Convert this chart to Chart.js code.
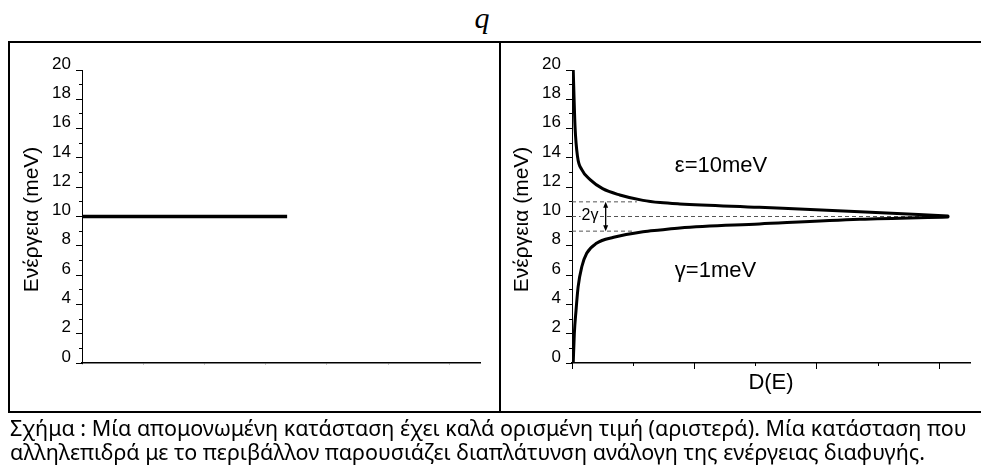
<!DOCTYPE html>
<html lang="el">
<head>
  <meta charset="UTF-8" />
  <title>Ενέργεια - D(E)</title>
  <script src="https://cdn.jsdelivr.net/npm/chart.js"></script>
  <style>
    html, body {
      margin: 0;
      padding: 0;
      background: #fff;
      overflow: hidden;
    }

    .page {
      position: relative;
      width: 981px;
      height: 466px;
      overflow: hidden;
    }

    .q {
      position: absolute;
      left: 462px;
      top: 1px;
      width: 40px;
      text-align: center;
      font: italic 30px "Liberation Serif", serif;
      color: #000;
    }

    .frame {
      position: absolute;
      left: 8px;
      top: 41px;
      width: 990px;
      height: 368px;
      border: 2px solid #000;
    }

    .divider {
      position: absolute;
      left: 499px;
      top: 41px;
      width: 2px;
      height: 372px;
      background: #000;
    }

    canvas {
      position: absolute;
    }

    #chart-left { left: 8px; top: 42px; }
    #chart-right { left: 500px; top: 42px; }

    .caption {
      position: absolute;
      left: 10px;
      font-family: "Noto Sans", sans-serif;
      font-size: 21.5px;
      line-height: 24px;
      color: #000;
      white-space: nowrap;
    }
  </style>
</head>
<body>
  <div class="page">
    <div class="q">q</div>
    <canvas id="chart-left" width="492" height="370"></canvas>
    <canvas id="chart-right" width="481" height="370"></canvas>
    <div class="frame"></div>
    <div class="divider"></div>
    <div class="caption" style="top:416px">Σχήμα : Μία απομονωμένη κατάσταση έχει καλά ορισμένη τιμή (αριστερά). Μία κατάσταση που</div>
    <div class="caption" style="top:440px">αλληλεπιδρά με το περιβάλλον παρουσιάζει διαπλάτυνση ανάλογη της ενέργειας διαφυγής.</div>
  </div>

  <script>
    // energy axis (meV)
    const energyMin = 0, energyMax = 20;
    const yTitle = "Ενέργεια (meV) ";

    // left: isolated level
    const levelD = [0, 3.35];
    const levelE = [10, 10];

    // right: broadened density of states
    const upperD = [0.01, 0.025, 0.045, 0.08, 0.15, 0.25, 0.39, 0.58, 0.72, 0.88, 1.53, 2.35, 3.07];
    const upperE = [20, 16.1, 14.1, 13.2, 12.5, 11.9, 11.47, 11.1, 10.95, 10.86, 10.63, 10.33, 10.03];
    const lowerD = [0.01, 0.019, 0.033, 0.05, 0.08, 0.12, 0.2, 0.34, 0.58, 0.72, 0.88, 1.53, 2.35, 3.07];
    const lowerE = [0, 2.0, 3.6, 5.2, 6.57, 7.49, 8.17, 8.58, 8.96, 9.08, 9.22, 9.49, 9.81, 9.97];

    // dashed guides at ε+γ, ε, ε-γ
    const guideE = [11, 10, 9];
    const guideEnd = [0.53, 3.05, 0.5];

    const FAMILY = "Liberation Sans";
    const labelFont = { family: FAMILY, size: 17 };
    const titleFont = { family: FAMILY, size: 21 };

    function yScales(axisWidth, titlePad) {
      return {
        y: {
          type: "linear", position: "left", weight: 1,
          min: energyMin, max: energyMax,
          ticks: { stepSize: 2, color: "#000", font: labelFont, padding: 5, labelOffset: -6 },
          grid: { drawOnChartArea: false, tickLength: 6, tickColor: "#000" },
          border: { color: "#000", width: 1 },
          title: { display: true, text: yTitle, color: "#000", font: titleFont, padding: { top: titlePad, bottom: 0 } },
          afterFit: s => { s.width = axisWidth; }
        },
        y2: {
          type: "linear", position: "left", weight: 0,
          min: energyMin, max: energyMax,
          ticks: { stepSize: 1, display: false },
          grid: { drawOnChartArea: false, tickLength: 3, tickColor: "#000" },
          border: { display: false },
          afterFit: s => { s.width = 0; }
        }
      };
    }

    // labels, arrow for the right chart
    const notes = {
      id: "notes",
      afterDatasetsDraw(chart) {
        const { ctx, scales: { x, y } } = chart;
        ctx.save();
        ctx.fillStyle = "#000";
        ctx.textBaseline = "middle";
        ctx.textAlign = "left";
        ctx.font = '22px "' + FAMILY + '"';
        ctx.fillText("ε=10meV", x.getPixelForValue(0.84), y.getPixelForValue(13.45));
        ctx.fillText("γ=1meV", x.getPixelForValue(0.84), y.getPixelForValue(6.26));

        // 2γ on a white patch over the centre guide
        ctx.font = '16px "' + FAMILY + '"';
        ctx.textAlign = "center";
        const gx = x.getPixelForValue(0.147), gy = y.getPixelForValue(10.05);
        const w = ctx.measureText("2γ").width;
        ctx.fillStyle = "#fff";
        ctx.fillRect(gx - w / 2 - 1, gy - 8, w + 2, 16);
        ctx.fillStyle = "#000";
        ctx.fillText("2γ", gx, gy);

        // double arrow between ε+γ and ε-γ
        const ax = x.getPixelForValue(0.275);
        const yTop = y.getPixelForValue(11), yBot = y.getPixelForValue(9);
        ctx.strokeStyle = "#000";
        ctx.lineWidth = 1.3;
        ctx.beginPath();
        ctx.moveTo(ax, yTop + 4);
        ctx.lineTo(ax, yBot - 4);
        ctx.stroke();
        ctx.beginPath();
        ctx.moveTo(ax, yTop); ctx.lineTo(ax - 2.5, yTop + 6); ctx.lineTo(ax + 2.5, yTop + 6); ctx.closePath();
        ctx.moveTo(ax, yBot); ctx.lineTo(ax - 2.5, yBot - 6); ctx.lineTo(ax + 2.5, yBot - 6); ctx.closePath();
        ctx.fill();
        ctx.restore();
      }
    };

    function drawCharts() {
      // left chart
      new Chart(document.getElementById("chart-left"), {
        type: "line",
        data: {
          datasets: [{
            data: levelD.map((d, i) => ({ x: d, y: levelE[i] })),
            borderColor: "#000",
            borderWidth: 3.5,
            pointRadius: 0
          }]
        },
        options: {
          responsive: false,
          animation: false,
          layout: { padding: { top: 28, right: 20, left: 0, bottom: 0 } },
          plugins: { legend: { display: false }, tooltip: { enabled: false } },
          scales: Object.assign({
            x: {
              type: "linear", position: "bottom", weight: 1,
              min: 0, max: 6.5,
              ticks: { stepSize: 1, display: false, includeBounds: false },
              grid: { drawOnChartArea: false, tickLength: 2, tickColor: "#c8c8c8" },
              border: { color: "#000", width: 1.5 },
              afterFit: s => { s.height = 49; }
            }
          }, yScales(74, 11.2))
        }
      });

      const curveStyle = {
        borderColor: "#000",
        borderWidth: 3,
        pointRadius: 0,
        cubicInterpolationMode: "monotone",
        borderCapStyle: "round",
        borderJoinStyle: "round",
        order: 0
      };

      const guides = guideE.map((e, i) => ({
        data: [{ x: 0, y: e }, { x: guideEnd[i], y: e }],
        borderColor: "#555",
        borderWidth: 1,
        borderDash: [4, 3],
        pointRadius: 0,
        order: 1
      }));

      new Chart(document.getElementById("chart-right"), {
        type: "line",
        data: {
          datasets: [
            Object.assign({ data: upperD.map((d, i) => ({ x: d, y: upperE[i] })) }, curveStyle),
            Object.assign({ data: lowerD.map((d, i) => ({ x: d, y: lowerE[i] })) }, curveStyle)
          ].concat(guides)
        },
        options: {
          responsive: false,
          animation: false,
          layout: { padding: { top: 28, right: 11, left: 0, bottom: 0 } },
          plugins: { legend: { display: false }, tooltip: { enabled: false } },
          scales: Object.assign({
            x: {
              type: "linear", position: "bottom", weight: 1,
              min: 0, max: 3.25,
              ticks: { stepSize: 1, display: false, includeBounds: false },
              grid: { drawOnChartArea: false, tickLength: 6, tickColor: "#000" },
              border: { color: "#000", width: 1.5 },
              title: { display: true, text: "D(E)", color: "#000", font: { family: FAMILY, size: 22 }, padding: { top: 0, bottom: 16 } },
              afterFit: s => { s.height = 49; }
            },
            x2: {
              type: "linear", position: "bottom", weight: 0,
              min: 0, max: 3.25,
              ticks: { stepSize: 0.5, display: false, includeBounds: false },
              grid: { drawOnChartArea: false, tickLength: 3, tickColor: "#000" },
              border: { display: false },
              afterFit: s => { s.height = 0; }
            }
          }, yScales(72, 9.2))
        },
        plugins: [notes]
      });
    }

    // make sure the local font is ready before the canvas uses it
    Promise.all([
      document.fonts.load('17px "' + FAMILY + '"', "Ενέργεια 0123"),
      document.fonts.load('22px "' + FAMILY + '"', "ε=10meV γ")
    ]).then(drawCharts, drawCharts);
  </script>
</body>
</html>
